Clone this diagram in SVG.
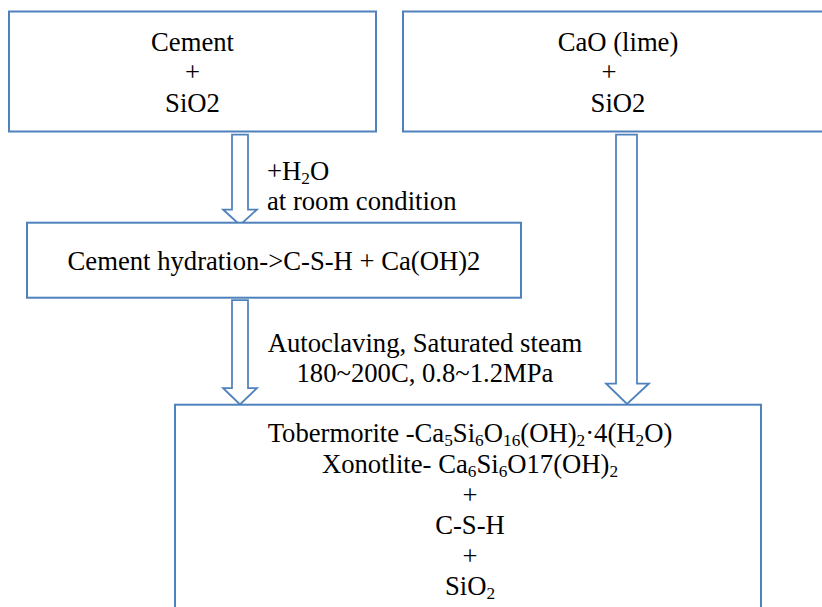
<svg xmlns="http://www.w3.org/2000/svg" width="822" height="607" viewBox="0 0 822 607">
<style>
.box{fill:#fff;stroke:#4F81BD;stroke-width:2}
.arr{fill:#fff;stroke:#4F81BD;stroke-width:1.75;stroke-linejoin:miter}
text{font-family:"Liberation Serif","Times New Roman",serif;font-size:26.67px;fill:#000}
.c{text-anchor:middle}
.sub{font-size:17.3px}
</style>
<rect width="822" height="607" fill="#fff"/>
<g id="connectors">
<polygon class="arr" points="232,134.5 248,134.5 248,209.5 257,209.5 240,225 223,209.5 232,209.5"/>
<polygon class="arr" points="232,300 248,300 248,388 257,388 240,404.5 223,388 232,388"/>
<polygon class="arr" points="616,134.5 637,134.5 637,383.5 649,383.5 627,404 606,383.5 616,383.5"/>
</g>
<g id="labels">
<text x="267" y="180">+H<tspan class="sub" dy="4">2</tspan><tspan dy="-4">O</tspan></text>
<text x="267" y="210">at room condition</text>
<text class="c" x="425" y="351.5">Autoclaving, Saturated steam</text>
<text class="c" x="425" y="381.5">180~200C, 0.8~1.2MPa</text>
</g>
<g id="node-cement">
<rect class="box" x="9" y="11.5" width="367" height="120"/>
<text class="c" x="192.5" y="50.5">Cement</text>
<text class="c" x="192.5" y="81">+</text>
<text class="c" x="192.5" y="111.5">SiO2</text>
</g>
<g id="node-cao">
<rect class="box" x="403" y="11.5" width="440" height="120"/>
<text class="c" x="618" y="50.5">CaO (lime)</text>
<text class="c" x="609" y="81">+</text>
<text class="c" x="618" y="111.5">SiO2</text>
</g>
<g id="node-hydration">
<rect class="box" x="27" y="222.7" width="494" height="75"/>
<text class="c" x="274" y="270">Cement hydration-&gt;C-S-H + Ca(OH)2</text>
</g>
<g id="node-products">
<rect class="box" x="175" y="404.7" width="586" height="230"/>
<text class="c" x="470" y="442">Tobermorite -Ca<tspan class="sub" dy="4">5</tspan><tspan dy="-4">Si</tspan><tspan class="sub" dy="4">6</tspan><tspan dy="-4">O</tspan><tspan class="sub" dy="4">16</tspan><tspan dy="-4">(OH)</tspan><tspan class="sub" dy="4">2</tspan><tspan dy="-4">·4(H</tspan><tspan class="sub" dy="4">2</tspan><tspan dy="-4">O)</tspan></text>
<text class="c" x="470" y="473">Xonotlite- Ca<tspan class="sub" dy="4">6</tspan><tspan dy="-4">Si</tspan><tspan class="sub" dy="4">6</tspan><tspan dy="-4">O17(OH)</tspan><tspan class="sub" dy="4">2</tspan></text>
<text class="c" x="470" y="503.5">+</text>
<text class="c" x="470" y="534">C-S-H</text>
<text class="c" x="470" y="564.5">+</text>
<text class="c" x="470" y="595">SiO<tspan class="sub" dy="4">2</tspan></text>
</g>
</svg>
